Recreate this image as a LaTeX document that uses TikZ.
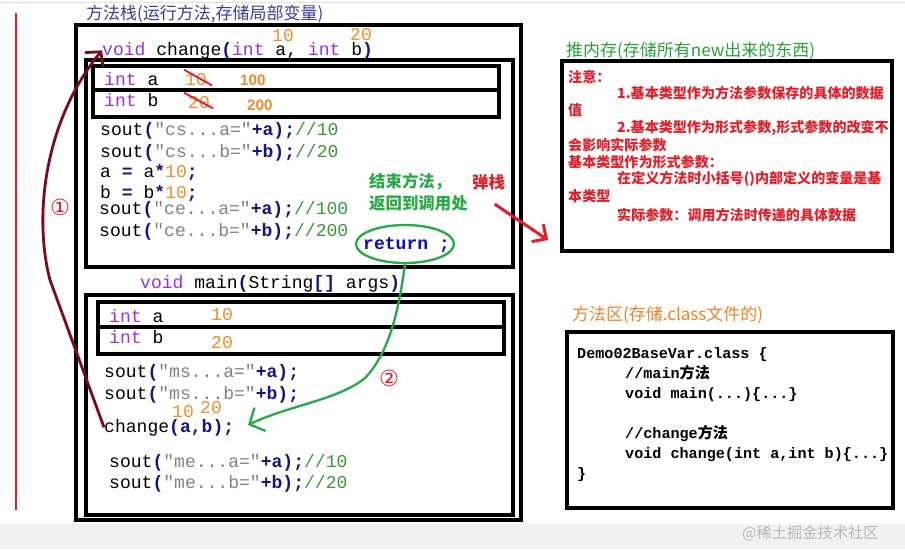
\documentclass[tikz,border=0pt]{standalone}
\usepackage{fontspec}
\setmainfont{Liberation Sans}
\setsansfont{Liberation Sans}
\setmonofont{Liberation Mono}
\newfontfamily\cjk{Noto Sans CJK SC}
\newfontfamily\symf{DejaVu Sans}
\usetikzlibrary{positioning, fit, shapes.geometric, arrows.meta}

\definecolor{kwpurple}{RGB}{150,50,230}
\definecolor{opblue}{RGB}{20,20,130}
\definecolor{strgray}{RGB}{130,130,130}
\definecolor{cmtgreen}{RGB}{60,150,60}
\definecolor{numorange}{RGB}{240,140,40}
\definecolor{retblue}{RGB}{10,10,200}
\definecolor{callmaroon}{RGB}{125,10,35}
\definecolor{arrgreen}{RGB}{40,170,70}
\definecolor{notered}{RGB}{228,30,40}
\definecolor{stackblue}{RGB}{60,60,160}
\definecolor{heapgreen}{RGB}{40,160,60}
\definecolor{areaorange}{RGB}{240,130,40}
\definecolor{bandgray}{RGB}{241,241,241}
\definecolor{markgray}{RGB}{185,185,185}

% code colouring
\newcommand\jkw[1]{\textcolor{kwpurple}{#1}}
\newcommand\jop[1]{\textcolor{opblue}{\bfseries #1}}
\newcommand\jstr[1]{\textcolor{strgray}{#1}}
\newcommand\jcmt[1]{\textcolor{cmtgreen}{#1}}
\newcommand\jnum[1]{\textcolor{numorange}{#1}}

\begin{document}
\begin{tikzpicture}[x=0.03cm, y=-0.03cm,
    every node/.style={inner sep=0pt},
    frame/.style={draw, line width=2.6pt},
    code/.style={anchor=base west, font=\fontsize{15.4}{18}\selectfont\ttfamily},
    numc/.style={code, text=numorange},
    newval/.style={anchor=base west, text=numorange,
                   font=\fontsize{13}{15}\selectfont\sffamily\bfseries},
    title/.style={anchor=west, font=\fontsize{14.5}{17}\selectfont\cjk},
    endlbl/.style={anchor=west, text=arrgreen,
                   font=\fontsize{14}{16}\selectfont\cjk\bfseries},
    note/.style={anchor=west, text=notered,
                 font=\fontsize{12}{14}\selectfont\cjk\bfseries},
    classline/.style={anchor=base west,
                      font=\fontsize{12.9}{15}\selectfont\ttfamily\bfseries},
    circnum/.style={text=notered, font=\fontsize{19}{19}\selectfont\symf},
    strike/.style={draw=notered, line width=1.6pt},
    callarrow/.style={draw=callmaroon, line width=2.4pt,
                      -{Straight Barb[length=9pt, width=20pt]}},
    retarrow/.style={draw=arrgreen, line width=2pt,
                     -{Straight Barb[length=10pt, width=22pt]}},
    poparrow/.style={draw=notered, line width=2.6pt,
                     -{Straight Barb[length=9pt, width=18pt]}},
  ]
  \fill[white] (0,0) rectangle (905,549);
  \useasboundingbox (0,0) rectangle (905,549);
  \fill[bandgray] (0,524) rectangle (905,549);
  \draw[gray!25] (0,2) -- (905,2);
  \draw[notered, line width=2.5pt] (16,13) -- (16,510);

  % method stack
  \node[title, text=stackblue] (stacktitle) at (86,14) {方法栈(运行方法,存储局部变量)};
  \node[frame, fit={(76,25) (521,520)}] (stack) {};
  \node[frame, fit={(86,60) (513,267)}] (chframe) {};
  \node[frame, fit={(93,66) (499,90)}] (chrowa) {};
  \node[frame, fit={(93,90) (499,117)}] (chrowb) {};
  \node[frame, fit={(86,295) (513,515)}] (mainframe) {};
  \node[frame, fit={(98,302) (504,327)}] (mnrowa) {};
  \node[frame, fit={(98,327) (504,354)}] (mnrowb) {};

  % change() frame
  \node[code] (sig) at (102,55) {\jkw{void} change\jop{(}\jkw{int} a, \jkw{int} b\jop{)}};
  \node[numc] (siga) at (272,41) {10};
  \node[numc] (sigb) at (350,40) {20};
  \node[code] (vara) at (104,85) {\jkw{int} a};
  \node[numc] (olda) at (185,85) {10};
  \node[newval] (newa) at (240,85) {100};
  \node[code] (varb) at (104,106) {\jkw{int} b};
  \node[numc] (oldb) at (188,108) {20};
  \node[newval] (newb) at (247,110) {200};
  \draw[strike] ([shift={(-1,-3)}]olda.north west) -- ([shift={(5,0)}]olda.south east);
  \draw[strike] ([shift={(-4,-3)}]oldb.north west) -- ([shift={(3,0)}]oldb.south east);
  \node[code] (cs1) at (100,135) {sout\jop{(}\jstr{"cs...a="}\jop{+a);}\jcmt{//10}};
  \node[code] (cs2) at (100,157) {sout\jop{(}\jstr{"cs...b="}\jop{+b);}\jcmt{//20}};
  \node[code] (mula) at (100,177) {a \jop{=} a\jop{*}\jnum{10}\jop{;}};
  \node[code] (mulb) at (100,198) {b \jop{=} b\jop{*}\jnum{10}\jop{;}};
  \node[code] (ce1) at (99,214) {sout\jop{(}\jstr{"ce...a="}\jop{+a);}\jcmt{//100}};
  \node[code] (ce2) at (99,236) {sout\jop{(}\jstr{"ce...b="}\jop{+b);}\jcmt{//200}};
  \node[endlbl] (endla) at (369,182) {结束方法，};
  \node[endlbl, text=notered] (pop) at (472,182) {弹栈};
  \node[endlbl] (endlb) at (369,203) {返回到调用处};
  \node[ellipse, draw=arrgreen, line width=2pt, minimum width=2.94cm,
        minimum height=1.14cm] (retring) at (405,244) {};
  \node[code, text=retblue, font=\fontsize{15.4}{18}\selectfont\ttfamily\bfseries]
    (ret) at (363,249) {return ;};

  % main() frame
  \node[code] (mainsig) at (140,288) {\jkw{void} main\jop{(}String\jop{[]} args\jop{)}};
  \node[code] (mvara) at (109,322) {\jkw{int} a};
  \node[numc] (mvala) at (211,320) {10};
  \node[code] (mvarb) at (109,343) {\jkw{int} b};
  \node[numc] (mvalb) at (211,348) {20};
  \node[code] (ms1) at (104,377) {sout\jop{(}\jstr{"ms...a="}\jop{+a);}};
  \node[code] (ms2) at (104,399) {sout\jop{(}\jstr{"ms...b="}\jop{+b);}};
  \node[numc] (arga) at (172,417) {10};
  \node[numc] (argb) at (200,413) {20};
  \node[code] (call) at (104,432) {change\jop{(a,b);}};
  \node[code] (me1) at (109,467) {sout\jop{(}\jstr{"me...a="}\jop{+a);}\jcmt{//10}};
  \node[code] (me2) at (109,488) {sout\jop{(}\jstr{"me...b="}\jop{+b);}\jcmt{//20}};
  \node[circnum] (one) at (60,207) {①};
  \node[circnum] (two) at (389,378) {②};

  % heap
  \node[title, text=heapgreen] (heaptitle) at (566,51) {推内存(存储所有new出来的东西)};
  \node[frame, fit={(562,61) (892,251)}] (heap) {};
  \node[note] (n1) at (568,77) {注意：};
  \node[note] (n2) at (617,93) {1.基本类型作为方法参数保存的具体的数据};
  \node[note] (n3) at (568,110) {值};
  \node[note] (n4) at (617,128) {2.基本类型作为形式参数,形式参数的改变不};
  \node[note] (n5) at (568,145) {会影响实际参数};
  \node[note] (n6) at (568,162) {基本类型作为形式参数：};
  \node[note] (n7) at (617,179) {在定义方法时小括号()内部定义的变量是基};
  \node[note] (n8) at (568,196) {本类型};
  \node[note] (n9) at (617,215) {实际参数：调用方法时传递的具体数据};

  % method area
  \node[title, text=areaorange] (areatitle) at (572,315) {方法区(存储.class文件的)};
  \node[frame, fit={(567,332) (893,508)}] (area) {};
  \node[classline] (cl1) at (577,358) {Demo02BaseVar.class \{};
  \node[classline] (cl2) at (625,378) {//main{\cjk 方法}};
  \node[classline] (cl3) at (625,398) {void main(...)\{...\}};
  \node[classline] (cl4) at (625,438) {//change{\cjk 方法}};
  \node[classline] (cl5) at (625,458) {void change(int a,int b)\{...\}};
  \node[classline] (cl6) at (577,478) {\}};

  \node[anchor=west, text=markgray, font=\fontsize{13}{15}\selectfont\cjk]
    (mark) at (742,533) {@稀土掘金技术社区};

  % connectors
  \coordinate (callbend) at (50,280);
  \coordinate (retmid) at (365,378);
  \coordinate (retend) at (248,425);
  \coordinate (popend) at (548,240);
  \draw[callarrow] (call.west) -- (callbend)
    .. controls (33,215) and (45,120) .. (sig.west);
  \draw[retarrow] (retring.south) .. controls (400,300) and (392,350) .. (retmid)
    .. controls (338,400) and (290,405) .. (retend);
  \draw[poparrow] ([shift={(6,14)}]pop.south) -- (popend);
\end{tikzpicture}
\end{document}
